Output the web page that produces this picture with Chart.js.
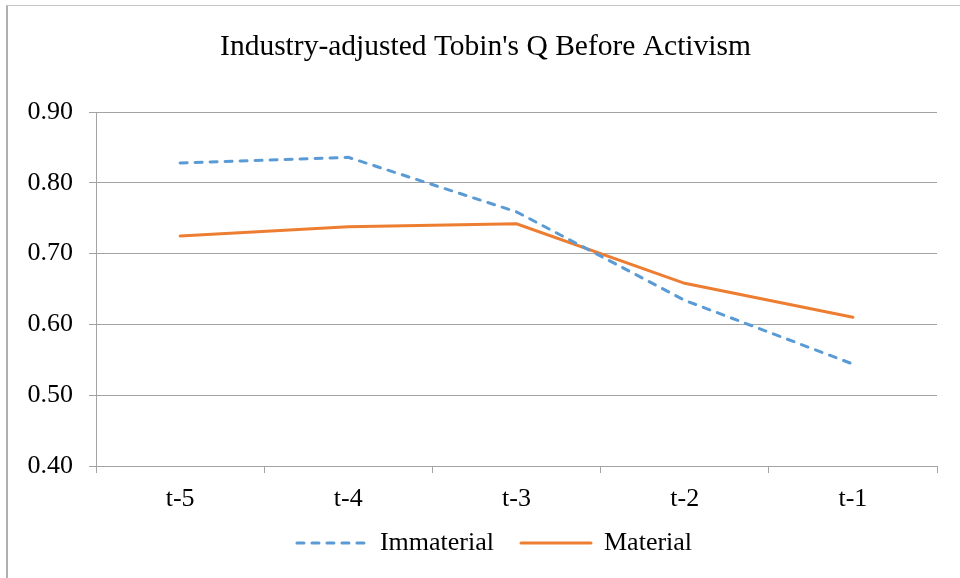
<!DOCTYPE html>
<html>
<head>
<meta charset="utf-8">
<script src="https://cdn.jsdelivr.net/npm/chart.js@4"></script>
<style>
  html, body { margin: 0; padding: 0; background: #fff; }
  #wrap { width: 960px; height: 578px; }
</style>
</head>
<body>
<div id="wrap"><canvas id="tobin-chart" width="960" height="578"></canvas></div>
<script>
// chart data
const periods = ["t-5", "t-4", "t-3", "t-2", "t-1"];
const immaterial = [0.828, 0.836, 0.759, 0.634, 0.544];
const material = [0.725, 0.738, 0.742, 0.658, 0.610];
const yTicks = [0.4, 0.5, 0.6, 0.7, 0.8, 0.9];

const serif = "'Liberation Serif', 'Times New Roman', serif";
const gridGray = "#a3a3a3";

// outer frame like the original figure
const frame = {
  id: "frame",
  beforeDraw(chart) {
    const { ctx } = chart;
    ctx.save();
    ctx.fillStyle = "#fff";
    ctx.fillRect(0, 0, chart.width, chart.height);
    ctx.strokeStyle = "#b0b0b0";
    ctx.lineWidth = 2;
    ctx.beginPath();
    ctx.moveTo(7, 5);
    ctx.lineTo(7, chart.height);
    ctx.stroke();
    ctx.strokeStyle = "#c4c4c4";
    ctx.lineWidth = 1;
    ctx.beginPath();
    ctx.moveTo(6, 5.5);
    ctx.lineTo(chart.width, 5.5);
    ctx.stroke();
    ctx.restore();
  },
  // the original centres title and legend on the page, not on the plot
  afterLayout(chart) {
    chart.legend.left += 26;
    chart.legend.right += 26;
    chart.legend.top -= 11;
    chart.legend.bottom -= 11;
    chart.titleBlock.left += 17;
    chart.titleBlock.right += 17;
  },
};

const context = document.getElementById("tobin-chart").getContext("2d");

new Chart(context, {
  type: "line",
  data: {
    labels: periods,
    datasets: [
      {
        label: "Immaterial",
        data: immaterial,
        borderColor: "#5B9BD5",
        backgroundColor: "#5B9BD5",
        borderWidth: 3,
        borderDash: [7, 8],
        borderCapStyle: "round",
        pointRadius: 0,
        tension: 0,
      },
      {
        label: "Material",
        data: material,
        borderColor: "#ED7D31",
        backgroundColor: "#ED7D31",
        borderWidth: 3,
        borderCapStyle: "round",
        pointRadius: 0,
        tension: 0,
      },
    ],
  },
  options: {
    responsive: false,
    animation: false,
    layout: { padding: { left: 0, right: 23, top: 0, bottom: 1 } },
    scales: {
      x: {
        offset: true,
        afterFit(scale) {
          scale.height = 48;
        },
        grid: {
          offset: true,
          drawOnChartArea: false,
          drawTicks: true,
          tickLength: 7,
          color: gridGray,
        },
        border: { display: true, color: gridGray },
        ticks: {
          color: "#000",
          padding: 11,
          font: { family: serif, size: 26 },
        },
      },
      y: {
        min: 0.4,
        max: 0.9,
        afterBuildTicks(scale) {
          scale.ticks = yTicks.map((v) => ({ value: v }));
        },
        afterFit(scale) {
          scale.width = 96;
        },
        grid: {
          drawTicks: true,
          tickLength: 7,
          color: gridGray,
        },
        border: { display: true, color: gridGray },
        ticks: {
          color: "#000",
          padding: 16,
          font: { family: serif, size: 26 },
          callback: (v) => Number(v).toFixed(2),
        },
      },
    },
    plugins: {
      title: {
        display: true,
        text: "Industry-adjusted Tobin's Q Before Activism",
        color: "#000",
        font: { family: serif, size: 29.5, weight: "normal" },
        padding: { top: 30, bottom: 46.6 },
      },
      legend: {
        position: "bottom",
        labels: {
          color: "#000",
          font: { family: serif, size: 26 },
          usePointStyle: true,
          pointStyle: "line",
          pointStyleWidth: 70,
          boxWidth: 70,
          padding: 27,
          generateLabels(chart) {
            const items = Chart.defaults.plugins.legend.labels.generateLabels(chart);
            items.forEach((item) => {
              const ds = chart.data.datasets[item.datasetIndex];
              item.strokeStyle = ds.borderColor;
              item.lineWidth = 3;
              item.lineDash = ds.borderDash || [];
              item.lineCap = "round";
            });
            return items;
          },
        },
      },
      tooltip: { enabled: false },
    },
  },
  plugins: [frame],
});
</script>
</body>
</html>
